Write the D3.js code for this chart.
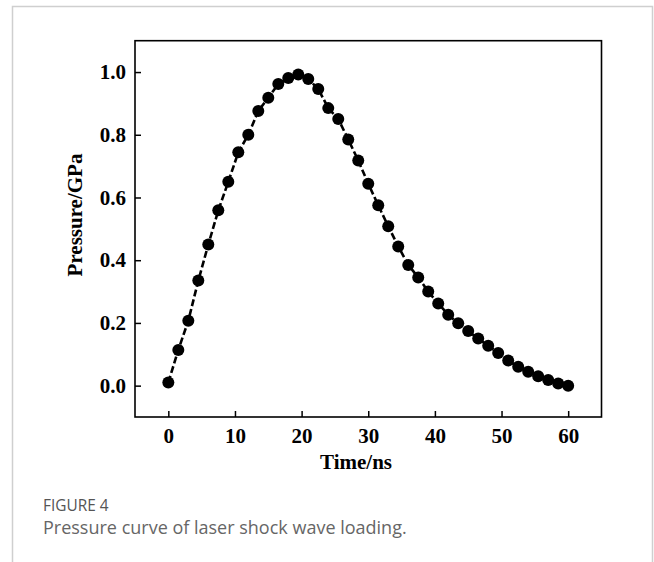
<!DOCTYPE html>
<html>
<head>
<meta charset="utf-8">
<script src="https://cdn.jsdelivr.net/npm/d3@7"></script>
<style>
  body { margin: 0; background: #fff; }
  .axis text { font-family: "Liberation Serif", "Times New Roman", serif; font-weight: bold; font-size: 21px; fill: #000; }
  .axis line { stroke: #000; stroke-width: 1.5px; }
  .axis-title { font-family: "Liberation Serif", "Times New Roman", serif; font-weight: bold; font-size: 21px; fill: #000; }
  .caption { font-family: "Open Sans", sans-serif; }
</style>
</head>
<body>
<svg id="chart"></svg>
<script>
const timeNs = [0, 1.5, 3, 4.5, 6, 7.5, 9, 10.5, 12, 13.5, 15, 16.5, 18, 19.5, 21, 22.5, 24, 25.5, 27, 28.5,
                30, 31.5, 33, 34.5, 36, 37.5, 39, 40.5, 42, 43.5, 45, 46.5, 48, 49.5, 51, 52.5, 54, 55.5, 57, 58.5, 60];
const pressureGPa = [0.01, 0.114, 0.207, 0.335, 0.45, 0.559, 0.65, 0.744, 0.80, 0.876, 0.918, 0.962, 0.981, 0.992, 0.978,
                     0.946, 0.885, 0.85, 0.785, 0.718, 0.644, 0.575, 0.508, 0.444, 0.385, 0.345, 0.30, 0.262, 0.226, 0.199,
                     0.174, 0.15, 0.127, 0.104, 0.08, 0.06, 0.044, 0.03, 0.018, 0.007, 0.0];
const xTicks = [0, 10, 20, 30, 40, 50, 60];
const yTicks = [0.0, 0.2, 0.4, 0.6, 0.8, 1.0];

const data = timeNs.map((t, i) => ({t: t, p: pressureGPa[i]}));

const W = 654, H = 562;
const margin = {top: 40.7, right: 52.5, bottom: 145, left: 135};
const width = W - margin.left - margin.right;
const height = H - margin.top - margin.bottom;

const svg = d3.select('#chart')
    .attr('width', W)
    .attr('height', H);

// outer figure border (open at the bottom)
svg.append('path')
    .attr('d', `M12.5,${H + 2} V6.5 H652.5 V${H + 2}`)
    .attr('fill', 'none')
    .attr('stroke', '#cfcfcf')
    .attr('stroke-width', 1.5);

const chart = svg.append('g')
    .attr('transform', `translate(${margin.left},${margin.top})`);

const xScale = d3.scaleLinear().domain([-5, 65]).range([0, width]);
const yScale = d3.scaleLinear().domain([-0.1, 1.1]).range([height, 0]);

const xAxis = d3.axisBottom(xScale)
    .tickValues(xTicks)
    .tickSizeInner(-6)
    .tickSizeOuter(0)
    .tickPadding(11)
    .tickFormat(d3.format('d'));

const yAxis = d3.axisLeft(yScale)
    .tickValues(yTicks)
    .tickSizeInner(-6)
    .tickSizeOuter(0)
    .tickPadding(9)
    .tickFormat(d3.format('.1f'));

chart.append('g')
    .attr('class', 'axis x-axis')
    .attr('transform', `translate(0,${height})`)
    .call(xAxis)
    .call(g => g.select('.domain').remove());

chart.append('g')
    .attr('class', 'axis y-axis')
    .call(yAxis)
    .call(g => g.select('.domain').remove());

// plot frame
chart.append('rect')
    .attr('width', width)
    .attr('height', height)
    .attr('fill', 'none')
    .attr('stroke', '#000')
    .attr('stroke-width', 1.6);

// dashed connecting line
const line = d3.line()
    .x(d => xScale(d.t))
    .y(d => yScale(d.p));

chart.append('path')
    .datum(data)
    .attr('fill', 'none')
    .attr('stroke', '#000')
    .attr('stroke-width', 2.6)
    .attr('stroke-dasharray', '7,3')
    .attr('d', line);

chart.selectAll('circle')
    .data(data)
    .enter()
    .append('circle')
    .attr('cx', d => xScale(d.t))
    .attr('cy', d => yScale(d.p))
    .attr('r', 6)
    .attr('fill', '#000');

// axis titles
chart.append('text')
    .attr('class', 'axis-title')
    .attr('x', 221)
    .attr('y', height + 52)
    .attr('text-anchor', 'middle')
    .text('Time/ns');

chart.append('text')
    .attr('class', 'axis-title')
    .attr('transform', 'rotate(-90)')
    .attr('x', -(215 - margin.top))
    .attr('y', -53)
    .attr('text-anchor', 'middle')
    .text('Pressure/GPa');

// caption
svg.append('text')
    .attr('class', 'caption')
    .attr('x', 43)
    .attr('y', 511)
    .attr('fill', '#555')
    .style('font-size', '15.4px')
    .text('FIGURE 4');

svg.append('text')
    .attr('class', 'caption')
    .attr('x', 43)
    .attr('y', 534)
    .attr('fill', '#666')
    .style('font-size', '18px')
    .text('Pressure curve of laser shock wave loading.');
</script>
</body>
</html>
